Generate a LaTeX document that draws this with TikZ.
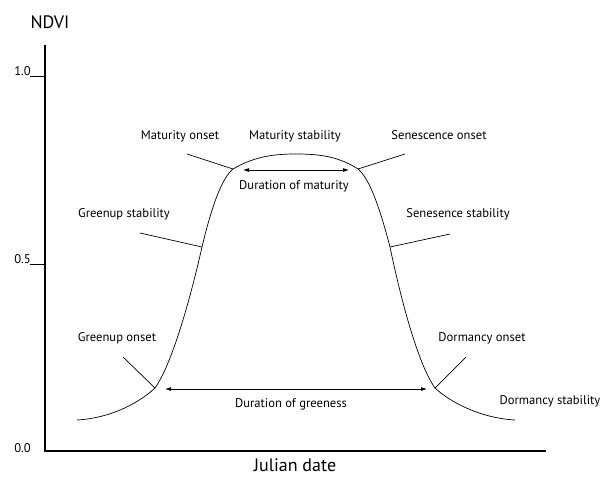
\documentclass[tikz,border=0pt]{standalone}
\usepackage{fontspec}
\setmainfont{PT Sans}
\usetikzlibrary{arrows.meta}
\begin{document}
\begin{tikzpicture}[x=1pt,y=-1pt,
  lbl/.style={font=\fontsize{12.6}{14}\selectfont, inner sep=0pt, anchor=base},
  big/.style={font=\fontsize{18}{21}\selectfont, inner sep=0pt, anchor=base},
  axis/.style={line width=1.4pt},
  thin/.style={line width=0.7pt},
  dur/.style={line width=0.7pt, {Latex[length=6pt,width=4pt]}-{Latex[length=6pt,width=4pt]}}]
\useasboundingbox (0,0) rectangle (602,483);
% axes
\coordinate (top) at (45,45);
\coordinate (org) at (45,451);
\coordinate (xend) at (546,451);
\draw[axis] (top) -- (org) -- (xend);
\coordinate (t1a) at (30,76); \coordinate (t1b) at (45,76);
\coordinate (t5a) at (30,264); \coordinate (t5b) at (45,264);
\draw[thin] (t1a) -- (t1b);
\draw[thin] (t5a) -- (t5b);
\node[lbl, anchor=base east] (l10) at (31,75) {1.0};
\node[lbl, anchor=base east] (l05) at (31,263) {0.5};
\node[lbl, anchor=base east] (l00) at (31,452) {0.0};
\node[big] (ndvi) at (50,28) {NDVI};
\node[big] (jd) at (295,471) {Julian date};
% curve key points
\coordinate (s) at (77,420);
\coordinate (go) at (155,388);
\coordinate (gs) at (202,247);
\coordinate (mo) at (233,169);
\coordinate (pk) at (296,154);
\coordinate (so) at (358,169);
\coordinate (ss) at (390,247);
\coordinate (do) at (435,388);
\coordinate (e) at (515,420);
\draw[thin] (s) .. controls (112,418) and (140,402) .. (go)
  .. controls (172,364) and (190,300) .. (gs)
  .. controls (212,205) and (222,178) .. (mo)
  .. controls (255,156) and (275,154) .. (pk)
  .. controls (318,154) and (338,156) .. (so)
  .. controls (369,178) and (379,205) .. (ss)
  .. controls (401,300) and (418,364) .. (do)
  .. controls (450,402) and (480,418) .. (e);
% leader lines
\coordinate (goL) at (123,357);
\coordinate (gsL) at (140,233);
\coordinate (moL) at (187,154);
\coordinate (soL) at (405,154);
\coordinate (ssL) at (450,234);
\coordinate (doL) at (466,357);
\draw[thin] (goL) -- (go);
\draw[thin] (gsL) -- (gs);
\draw[thin] (moL) -- (mo);
\draw[thin] (soL) -- (so);
\draw[thin] (ssL) -- (ss);
\draw[thin] (doL) -- (do);
% labels
\node[lbl] (tmo) at (180,139) {Maturity onset};
\node[lbl] (tms) at (295,139) {Maturity stability};
\node[lbl] (tso) at (439,139) {Senescence onset};
\node[lbl] (tgs) at (124,217) {Greenup stability};
\node[lbl] (tss) at (458,217) {Senesence stability};
\node[lbl] (tgo) at (117,341) {Greenup onset};
\node[lbl] (tdo) at (482,341) {Dormancy onset};
\node[lbl] (tds) at (550,404) {Dormancy stability};
\node[lbl] (tdm) at (294,189) {Duration of maturity};
\node[lbl] (tdg) at (291,407) {Duration of greeness};
% duration arrows
\coordinate (ma) at (243,170); \coordinate (mb) at (349,170);
\coordinate (ga) at (165,389); \coordinate (gb) at (427,389);
\draw[dur] (ma) -- (mb);
\draw[dur] (ga) -- (gb);
\end{tikzpicture}
\end{document}
